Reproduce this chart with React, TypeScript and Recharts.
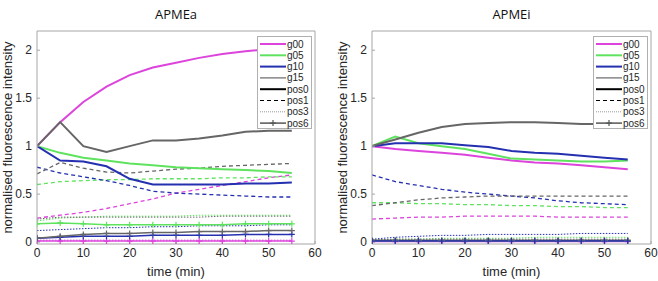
import { Line, LineChart, XAxis, YAxis } from 'recharts'

const minutes = [0, 5, 10, 15, 20, 25, 30, 35, 40, 45, 50, 55]
const xTicks = [0, 10, 20, 30, 40, 50, 60]
const yTicks = [0, 0.5, 1, 1.5, 2]
const legendNames = ['g00', 'g05', 'g10', 'g15', 'pos0', 'pos1', 'pos3', 'pos6']

// APMEa
const aG00Pos0 = [1, 1.25, 1.46, 1.62, 1.74, 1.82, 1.87, 1.92, 1.96, 1.99, 2.01, 2.03]
const aG05Pos0 = [1, 0.93, 0.88, 0.85, 0.82, 0.8, 0.78, 0.77, 0.76, 0.75, 0.74, 0.72]
const aG10Pos0 = [1, 0.85, 0.84, 0.79, 0.66, 0.6, 0.6, 0.6, 0.6, 0.61, 0.61, 0.62]
const aG15Pos0 = [1, 1.25, 1.0, 0.94, 1.0, 1.06, 1.06, 1.08, 1.11, 1.15, 1.16, 1.16]
const aG00Pos1 = [0.25, 0.28, 0.31, 0.35, 0.4, 0.45, 0.51, 0.55, 0.59, 0.63, 0.67, 0.7]
const aG05Pos1 = [0.6, 0.63, 0.64, 0.65, 0.65, 0.66, 0.66, 0.66, 0.67, 0.67, 0.68, 0.68]
const aG10Pos1 = [0.78, 0.72, 0.68, 0.64, 0.59, 0.53, 0.51, 0.5, 0.49, 0.48, 0.47, 0.47]
const aG15Pos1 = [0.71, 0.83, 0.77, 0.73, 0.72, 0.74, 0.76, 0.77, 0.79, 0.8, 0.81, 0.82]
const aG00Pos3 = [0.02, 0.02, 0.02, 0.02, 0.02, 0.02, 0.02, 0.02, 0.02, 0.02, 0.02, 0.02]
const aG05Pos3 = [0.22, 0.25, 0.26, 0.27, 0.27, 0.27, 0.27, 0.28, 0.28, 0.28, 0.28, 0.28]
const aG10Pos3 = [0.12, 0.13, 0.14, 0.15, 0.15, 0.16, 0.16, 0.17, 0.17, 0.17, 0.18, 0.18]
const aG15Pos3 = [0.24, 0.26, 0.26, 0.26, 0.26, 0.26, 0.26, 0.26, 0.27, 0.27, 0.27, 0.27]
const aG00Pos6 = [0.01, 0.01, 0.01, 0.01, 0.01, 0.01, 0.01, 0.01, 0.01, 0.01, 0.01, 0.01]
const aG05Pos6 = [0.19, 0.2, 0.19, 0.18, 0.18, 0.18, 0.18, 0.18, 0.18, 0.19, 0.19, 0.19]
const aG10Pos6 = [0.04, 0.05, 0.06, 0.06, 0.06, 0.07, 0.07, 0.07, 0.07, 0.08, 0.08, 0.08]
const aG15Pos6 = [0.04, 0.06, 0.08, 0.09, 0.09, 0.1, 0.1, 0.11, 0.11, 0.11, 0.12, 0.12]

// APMEi
const iG00Pos0 = [1, 0.97, 0.95, 0.93, 0.91, 0.88, 0.85, 0.83, 0.82, 0.8, 0.78, 0.76]
const iG05Pos0 = [1, 1.1, 1.03, 1.0, 0.97, 0.92, 0.87, 0.86, 0.85, 0.84, 0.84, 0.85]
const iG10Pos0 = [1, 1.03, 1.03, 1.03, 1.01, 0.99, 0.95, 0.93, 0.92, 0.9, 0.88, 0.86]
const iG15Pos0 = [1, 1.07, 1.14, 1.2, 1.23, 1.24, 1.25, 1.25, 1.24, 1.23, 1.23, 1.23]
const iG00Pos1 = [0.24, 0.25, 0.26, 0.26, 0.27, 0.27, 0.27, 0.27, 0.26, 0.26, 0.26, 0.26]
const iG05Pos1 = [0.41, 0.41, 0.4, 0.4, 0.39, 0.39, 0.38, 0.38, 0.37, 0.37, 0.36, 0.36]
const iG10Pos1 = [0.7, 0.63, 0.59, 0.55, 0.52, 0.5, 0.48, 0.46, 0.43, 0.41, 0.4, 0.39]
const iG15Pos1 = [0.38, 0.41, 0.44, 0.46, 0.47, 0.48, 0.48, 0.48, 0.48, 0.48, 0.48, 0.48]
const iG00Pos3 = [0.01, 0.01, 0.01, 0.01, 0.01, 0.01, 0.01, 0.01, 0.01, 0.01, 0.01, 0.01]
const iG05Pos3 = [0.02, 0.03, 0.03, 0.04, 0.04, 0.04, 0.04, 0.05, 0.05, 0.05, 0.05, 0.05]
const iG10Pos3 = [0.03, 0.05, 0.06, 0.07, 0.07, 0.08, 0.08, 0.08, 0.08, 0.09, 0.09, 0.09]
const iG15Pos3 = [0.02, 0.03, 0.03, 0.03, 0.03, 0.03, 0.03, 0.03, 0.03, 0.03, 0.03, 0.03]
const iG00Pos6 = [0.005, 0.005, 0.005, 0.005, 0.005, 0.005, 0.005, 0.005, 0.005, 0.005, 0.005, 0.005]
const iG05Pos6 = [0.015, 0.015, 0.015, 0.015, 0.015, 0.015, 0.015, 0.015, 0.015, 0.015, 0.015, 0.015]
const iG15Pos6 = [0.02, 0.02, 0.02, 0.02, 0.02, 0.02, 0.02, 0.02, 0.02, 0.02, 0.02, 0.02]
const iG10Pos6 = [0.01, 0.01, 0.01, 0.01, 0.01, 0.01, 0.01, 0.01, 0.01, 0.01, 0.01, 0.01]

type Group = 'g00' | 'g05' | 'g10' | 'g15'
type Pos = 'pos0' | 'pos1' | 'pos3' | 'pos6'

const colors: Record<Group, string> = { g00: '#dc44dc', g05: '#5fe35f', g10: '#2430b0', g15: '#666666' }
const axisColor = '#a6a6a6'
const textColor = '#262626'
const font = '"Liberation Sans", Arial, sans-serif'

const apmea: [Group, Pos, number[]][] = [
  ['g00', 'pos3', aG00Pos3], ['g05', 'pos3', aG05Pos3], ['g10', 'pos3', aG10Pos3], ['g15', 'pos3', aG15Pos3],
  ['g00', 'pos1', aG00Pos1], ['g05', 'pos1', aG05Pos1], ['g10', 'pos1', aG10Pos1], ['g15', 'pos1', aG15Pos1],
  ['g00', 'pos6', aG00Pos6], ['g05', 'pos6', aG05Pos6], ['g10', 'pos6', aG10Pos6], ['g15', 'pos6', aG15Pos6],
  ['g00', 'pos0', aG00Pos0], ['g05', 'pos0', aG05Pos0], ['g10', 'pos0', aG10Pos0], ['g15', 'pos0', aG15Pos0],
]

const apmei: [Group, Pos, number[]][] = [
  ['g00', 'pos3', iG00Pos3], ['g05', 'pos3', iG05Pos3], ['g10', 'pos3', iG10Pos3], ['g15', 'pos3', iG15Pos3],
  ['g00', 'pos1', iG00Pos1], ['g05', 'pos1', iG05Pos1], ['g10', 'pos1', iG10Pos1], ['g15', 'pos1', iG15Pos1],
  ['g00', 'pos6', iG00Pos6], ['g05', 'pos6', iG05Pos6], ['g15', 'pos6', iG15Pos6], ['g10', 'pos6', iG10Pos6],
  ['g00', 'pos0', iG00Pos0], ['g05', 'pos0', iG05Pos0], ['g10', 'pos0', iG10Pos0], ['g15', 'pos0', iG15Pos0],
]

function styleFor(pos: Pos) {
  if (pos === 'pos0') return { strokeWidth: 2 }
  if (pos === 'pos1') return { strokeWidth: 1.3, strokeDasharray: '4 3' }
  if (pos === 'pos3') return { strokeWidth: 1, strokeDasharray: '1.5 1.5' }
  return { strokeWidth: 1.5 }
}

function PlusDot(props: any) {
  const { cx, cy, stroke, index } = props
  if (cx == null || cy == null) return <g key={index} />
  return <path key={index} d={`M${cx - 3},${cy}h6M${cx},${cy - 3}v6`} stroke={stroke} strokeWidth={1.2} fill="none" />
}

function XTitle({ viewBox }: any) {
  const { x, y, width, height } = viewBox
  return (
    <text x={x + width / 2} y={y + height - 5} textAnchor="middle" fontSize={13} fontFamily={font} fill={textColor}>
      time (min)
    </text>
  )
}

function YTitle({ viewBox }: any) {
  const { x, y, height } = viewBox
  const cx = x + 7
  const cy = y + height / 2
  return (
    <text x={cx} y={cy} transform={`rotate(-90 ${cx} ${cy})`} textAnchor="middle" dominantBaseline="central" fontSize={13} fontFamily={font} fill={textColor}>
      normalised fluorescence intensity
    </text>
  )
}

function Panel({ title, series, left, width, marginRight }: { title: string; series: [Group, Pos, number[]][]; left: number; width: number; marginRight: number }) {
  const rows = minutes.map((t, i) => {
    const row: Record<string, number> = { t }
    series.forEach(([g, p, vals]) => { row[`${g}_${p}`] = vals[i] })
    return row
  })
  const plotRight = width - marginRight

  return (
    <div style={{ position: 'absolute', left, top: 0, width, height: 281 }}>
      <div style={{ position: 'absolute', left: 37, width: plotRight - 37, top: 5, textAlign: 'center', fontFamily: '"Open Sans", sans-serif', fontSize: 13, color: '#111' }}>
        {title}
      </div>
      <LineChart width={width} height={281} data={rows} margin={{ top: 30, right: marginRight - 1, bottom: 0, left: 0 }}>
        <XAxis xAxisId="b" dataKey="t" type="number" domain={[0, 60]} ticks={xTicks} allowDataOverflow
          height={37} stroke={axisColor} tickSize={-3} tickMargin={7}
          tick={{ fill: textColor, fontSize: 12, fontFamily: font }}
          label={{ content: XTitle }} />
        <XAxis xAxisId="top" orientation="top" dataKey="t" type="number" domain={[0, 60]} ticks={xTicks} allowDataOverflow
          height={1} stroke={axisColor} tickSize={-3} tick={false} />
        <YAxis yAxisId="l" type="number" domain={[-0.02, 2.2]} ticks={yTicks} allowDataOverflow
          width={37} stroke={axisColor} tickSize={-3} tickMargin={8}
          tick={{ fill: textColor, fontSize: 12, fontFamily: font }}
          label={{ content: YTitle }} />
        <YAxis yAxisId="r" orientation="right" type="number" domain={[-0.02, 2.2]} ticks={yTicks} allowDataOverflow
          width={1} stroke={axisColor} tickSize={-3} tick={false} />
        {series.map(([g, p]) => (
          <Line key={`${g}_${p}`} xAxisId="b" yAxisId="l" type="linear" dataKey={`${g}_${p}`}
            stroke={colors[g]} {...styleFor(p)}
            dot={p === 'pos6' ? (props: any) => <PlusDot {...props} stroke={colors[g]} /> : false}
            activeDot={false} isAnimationActive={false} />
        ))}
      </LineChart>
      <LegendBox left={plotRight - 58} top={36} />
    </div>
  )
}

function LegendBox({ left, top }: { left: number; top: number }) {
  const sample = (name: string, y: number) => {
    if (name === 'g00' || name === 'g05' || name === 'g10') return <line x1={3} x2={29} y1={y} y2={y} stroke={colors[name as Group]} strokeWidth={2} />
    if (name === 'g15') return <line x1={3} x2={29} y1={y} y2={y} stroke="#666" strokeWidth={1.2} />
    if (name === 'pos0') return <line x1={3} x2={29} y1={y} y2={y} stroke="#000" strokeWidth={2} />
    if (name === 'pos1') return <line x1={3} x2={29} y1={y} y2={y} stroke="#000" strokeWidth={1.2} strokeDasharray="4 3" />
    if (name === 'pos3') return <line x1={3} x2={29} y1={y} y2={y} stroke="#999" strokeWidth={1} strokeDasharray="1 1" />
    return (
      <g>
        <line x1={3} x2={29} y1={y} y2={y} stroke="#555" strokeWidth={1.5} />
        <path d={`M13,${y}h6M16,${y - 3}v6`} stroke="#555" strokeWidth={1.2} />
      </g>
    )
  }
  return (
    <svg style={{ position: 'absolute', left, top }} width={55} height={93}>
      <rect x={0.5} y={0.5} width={54} height={92} fill="#fff" stroke="#b0b0b0" />
      {legendNames.map((name, i) => {
        const y = 8 + i * 11.3
        return (
          <g key={name}>
            {sample(name, y)}
            <text x={30} y={y} dominantBaseline="central" fontSize={10} fontFamily={font} fill={textColor}>{name}</text>
          </g>
        )
      })}
    </svg>
  )
}

export default function App() {
  return (
    <div style={{ position: 'absolute', left: 0, top: 0, width: 658, height: 281, background: '#fff' }}>
      <Panel title="APMEa" series={apmea} left={0} width={329} marginRight={14} />
      <Panel title="APMEi" series={apmei} left={335} width={323} marginRight={7} />
    </div>
  )
}
